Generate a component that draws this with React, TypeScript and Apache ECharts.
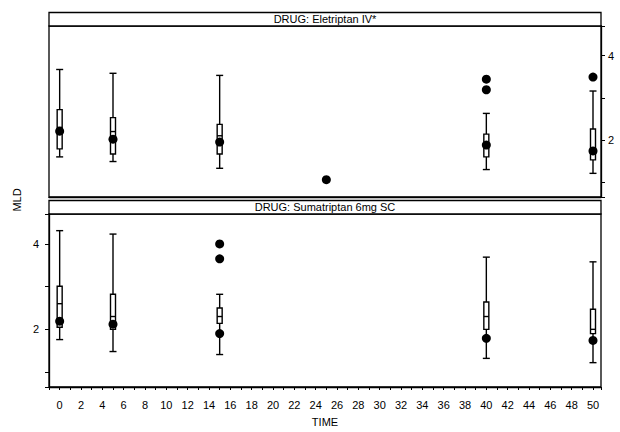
import React, { useEffect, useRef } from "react";
import * as echarts from "echarts";

// ---- Data ----
const TOP_TIME = [0, 5, 15, 40, 50];
const TOP_MIN = [1.6, 1.49, 1.33, 1.3, 1.21];
const TOP_Q1 = [1.79, 1.67, 1.67, 1.6, 1.53];
const TOP_MED = [2.3, 2.2, 2.1, 1.9, 1.7];
const TOP_Q3 = [2.72, 2.53, 2.37, 2.14, 2.26];
const TOP_MAX = [3.67, 3.58, 3.53, 2.63, 3.16];
const TOP_DOT_X = [0, 5, 15, 25, 40, 40, 40, 50, 50];
const TOP_DOT_Y = [2.21, 2.02, 1.95, 1.06, 3.44, 3.19, 1.88, 3.49, 1.74];

const BOT_TIME = [0, 5, 15, 40, 50];
const BOT_MIN = [1.76, 1.48, 1.41, 1.32, 1.22];
const BOT_Q1 = [2.05, 2.0, 2.14, 2.0, 1.9];
const BOT_MED = [2.6, 2.3, 2.3, 2.3, 2.0];
const BOT_Q3 = [3.01, 2.82, 2.5, 2.64, 2.47];
const BOT_MAX = [4.31, 4.23, 2.82, 3.69, 3.58];
const BOT_DOT_X = [0, 5, 15, 15, 15, 40, 50];
const BOT_DOT_Y = [2.19, 2.12, 4.0, 3.65, 1.9, 1.79, 1.74];

const PANEL_TITLES = ["DRUG: Eletriptan IV*", "DRUG: Sumatriptan 6mg SC"];
const Y_LABELS = [2, 4];
const X_LABEL_STEP = 2;

const FONT = "Liberation Sans";

function boxRows(t: number[], mn: number[], q1: number[], md: number[], q3: number[], mx: number[]) {
  return t.map((x, i) => [x, mn[i], q1[i], md[i], q3[i], mx[i]]);
}
function dotRows(xs: number[], ys: number[]) {
  return xs.map((x, i) => [x, ys[i]]);
}

const renderBox = (params: any, api: any) => {
  const x = api.value(0);
  const pMin = api.coord([x, api.value(1)]);
  const pQ1 = api.coord([x, api.value(2)]);
  const pMed = api.coord([x, api.value(3)]);
  const pQ3 = api.coord([x, api.value(4)]);
  const pMax = api.coord([x, api.value(5)]);
  const cx = pMin[0];
  const w = 5;
  const cap = 3.5;
  const st = { stroke: "#000", lineWidth: 1.4, fill: null };
  return {
    type: "group",
    children: [
      { type: "line", shape: { x1: cx, y1: pMax[1], x2: cx, y2: pQ3[1] }, style: st },
      { type: "line", shape: { x1: cx, y1: pQ1[1], x2: cx, y2: pMin[1] }, style: st },
      { type: "line", shape: { x1: cx - cap, y1: pMax[1], x2: cx + cap, y2: pMax[1] }, style: st },
      { type: "line", shape: { x1: cx - cap, y1: pMin[1], x2: cx + cap, y2: pMin[1] }, style: st },
      {
        type: "rect",
        shape: { x: cx - w / 2, y: pQ3[1], width: w, height: pQ1[1] - pQ3[1] },
        style: { stroke: "#000", lineWidth: 1.4, fill: "#fff" },
      },
      { type: "line", shape: { x1: cx - w / 2, y1: pMed[1], x2: cx + w / 2, y2: pMed[1] }, style: st },
    ],
  };
};

const GRID_LEFT = 49;
const GRID_RIGHT = 19;
const TOP_GRID_TOP = 26;
const TOP_GRID_H = 171;
const BOT_GRID_TOP = 214;
const BOT_GRID_H = 173;
const STRIP_H = 13.5;

export default function App() {
  const ref = useRef<HTMLDivElement>(null);
  useEffect(() => {
    if (!ref.current) return;
    const chart = echarts.init(ref.current, undefined, { renderer: "svg" });
    const plotW = 620 - GRID_LEFT - GRID_RIGHT;
    const yLabelFmt = (v: number) => (Y_LABELS.includes(v) ? String(v) : "");
    const xLabelFmt = (v: number) => (v >= 0 && Math.abs(v % X_LABEL_STEP) < 1e-9 ? String(v) : "");
    const baseY = {
      type: "value",
      min: 0.65,
      max: 4.7,
      splitNumber: 4,
      splitLine: { show: false },
      axisLine: { show: true, onZero: false, lineStyle: { color: "#000", width: 1.3 } },
      axisTick: { show: true, length: 4, lineStyle: { color: "#000" } },
    };
    const option: any = {
      animation: false,
      backgroundColor: "#fff",
      textStyle: { fontFamily: FONT, color: "#000" },
      grid: [
        { left: GRID_LEFT, right: GRID_RIGHT, top: TOP_GRID_TOP, height: TOP_GRID_H, show: true, borderColor: "#000", borderWidth: 1.3 },
        { left: GRID_LEFT, right: GRID_RIGHT, top: BOT_GRID_TOP, height: BOT_GRID_H, show: true, borderColor: "#000", borderWidth: 1.3 },
      ],
      xAxis: [
        {
          type: "value",
          gridIndex: 0,
          min: -1,
          max: 50.75,
          interval: 1,
          axisLabel: { show: false },
          axisTick: { show: false },
          splitLine: { show: false },
          axisLine: { show: true, onZero: false, lineStyle: { color: "#000", width: 1.3 } },
        },
        {
          type: "value",
          gridIndex: 1,
          min: -1,
          max: 50.75,
          interval: 1,
          name: "TIME",
          nameLocation: "middle",
          nameGap: 29,
          nameTextStyle: { fontFamily: FONT, fontSize: 11, color: "#000" },
          axisLabel: { interval: 0, formatter: xLabelFmt, fontFamily: FONT, fontSize: 11, color: "#000", margin: 12 },
          axisTick: { show: true, length: 3, interval: 0, lineStyle: { color: "#000" } },
          splitLine: { show: false },
          axisLine: { show: true, onZero: false, lineStyle: { color: "#000", width: 1.3 } },
        },
      ],
      yAxis: [
        {
          ...baseY,
          gridIndex: 0,
          position: "right",
          axisLabel: { formatter: yLabelFmt, fontFamily: FONT, fontSize: 11, color: "#000", margin: 7 },
        },
        {
          ...baseY,
          gridIndex: 1,
          position: "left",
          axisLabel: { formatter: yLabelFmt, fontFamily: FONT, fontSize: 11, color: "#000", margin: 10 },
        },
      ],
      graphic: [
        {
          type: "rect",
          shape: { x: GRID_LEFT, y: TOP_GRID_TOP - STRIP_H, width: plotW, height: STRIP_H },
          style: { fill: "#fff", stroke: "#000", lineWidth: 1.3 },
        },
        {
          type: "text",
          x: GRID_LEFT + plotW / 2,
          y: TOP_GRID_TOP - STRIP_H / 2,
          style: { text: PANEL_TITLES[0], fontFamily: FONT, fontSize: 11, fill: "#000", textAlign: "center", textVerticalAlign: "middle" },
        },
        {
          type: "rect",
          shape: { x: GRID_LEFT, y: BOT_GRID_TOP - STRIP_H, width: plotW, height: STRIP_H },
          style: { fill: "#fff", stroke: "#000", lineWidth: 1.3 },
        },
        {
          type: "text",
          x: GRID_LEFT + plotW / 2,
          y: BOT_GRID_TOP - STRIP_H / 2,
          style: { text: PANEL_TITLES[1], fontFamily: FONT, fontSize: 11, fill: "#000", textAlign: "center", textVerticalAlign: "middle" },
        },
        {
          type: "text",
          x: 17,
          y: 200,
          rotation: Math.PI / 2,
          style: { text: "MLD", fontFamily: FONT, fontSize: 11, fill: "#000", textAlign: "center", textVerticalAlign: "middle" },
        },
      ],
      series: [
        {
          type: "custom",
          xAxisIndex: 0,
          yAxisIndex: 0,
          renderItem: renderBox,
          encode: { x: 0, y: [1, 2, 3, 4, 5] },
          data: boxRows(TOP_TIME, TOP_MIN, TOP_Q1, TOP_MED, TOP_Q3, TOP_MAX),
          z: 2,
        },
        {
          type: "scatter",
          xAxisIndex: 0,
          yAxisIndex: 0,
          symbol: "circle",
          symbolSize: 9,
          itemStyle: { color: "#000", opacity: 1 },
          data: dotRows(TOP_DOT_X, TOP_DOT_Y),
          z: 3,
        },
        {
          type: "custom",
          xAxisIndex: 1,
          yAxisIndex: 1,
          renderItem: renderBox,
          encode: { x: 0, y: [1, 2, 3, 4, 5] },
          data: boxRows(BOT_TIME, BOT_MIN, BOT_Q1, BOT_MED, BOT_Q3, BOT_MAX),
          z: 2,
        },
        {
          type: "scatter",
          xAxisIndex: 1,
          yAxisIndex: 1,
          symbol: "circle",
          symbolSize: 9,
          itemStyle: { color: "#000", opacity: 1 },
          data: dotRows(BOT_DOT_X, BOT_DOT_Y),
          z: 3,
        },
      ],
    };
    chart.setOption(option);
    return () => chart.dispose();
  }, []);
  return <div ref={ref} style={{ width: 620, height: 432, position: "fixed", left: 0, top: 0 }} />;
}
